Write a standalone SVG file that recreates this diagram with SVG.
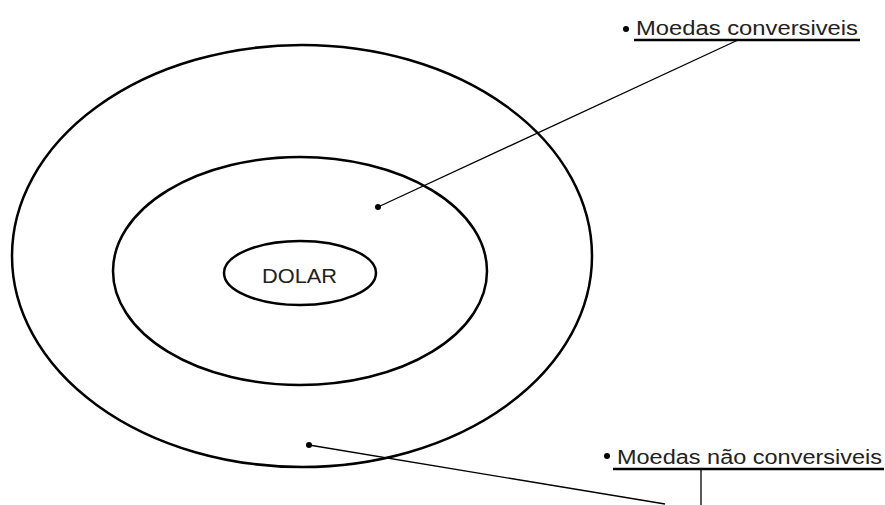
<svg xmlns="http://www.w3.org/2000/svg" width="885" height="505" viewBox="0 0 885 505">
<style>
.ring{fill:none;stroke:#000;stroke-width:2.5}
.lbl{font-family:"Liberation Sans","DejaVu Sans",sans-serif;font-size:20px;fill:#222}
.ln{stroke:#000;stroke-width:1.3;fill:none}
.ul{stroke:#000;stroke-width:2.5}
</style>
<rect width="885" height="505" fill="#fff"/>
<g id="outer"><ellipse class="ring" cx="302" cy="256" rx="290" ry="211"/></g>
<g id="middle"><ellipse class="ring" cx="300" cy="271" rx="187" ry="114"/></g>
<g id="inner"><ellipse class="ring" cx="300" cy="273" rx="76" ry="32"/>
<text class="lbl" x="262" y="283" textLength="75" lengthAdjust="spacingAndGlyphs">DOLAR</text></g>
<g id="label-conv">
<circle cx="626" cy="29" r="3"/>
<text class="lbl" x="636" y="35" textLength="222" lengthAdjust="spacingAndGlyphs">Moedas conversiveis</text>
<line class="ul" x1="634" y1="40" x2="860" y2="40"/>
</g>
<g id="label-nconv">
<circle cx="607" cy="456" r="3"/>
<text class="lbl" x="617" y="464" textLength="265" lengthAdjust="spacingAndGlyphs">Moedas não conversiveis</text>
<line class="ul" x1="613" y1="469" x2="884" y2="469"/>
</g>
<g id="connectors">
<line class="ln" x1="738" y1="40" x2="378" y2="207"/>
<circle cx="378" cy="207" r="3"/>
<line class="ln" x1="309" y1="445" x2="665" y2="504"/>
<circle cx="309" cy="445" r="3"/>
<line class="ln" x1="701" y1="469" x2="701" y2="505"/>
</g>
</svg>
